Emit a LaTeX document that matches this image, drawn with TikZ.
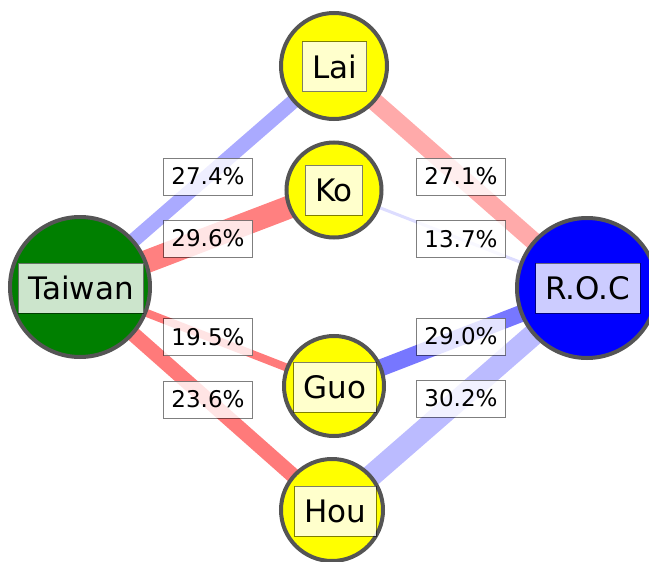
\documentclass[tikz,border=0pt]{standalone}
\usepackage{fontspec}
\setmainfont{DejaVu Sans}
\definecolor{nodeedge}{HTML}{555555}
\definecolor{tgreen}{HTML}{007F00}
\definecolor{rblue}{HTML}{0000FF}
\definecolor{cyel}{HTML}{FFFF00}
\definecolor{eTL}{HTML}{AAAAFF}
\definecolor{eTK}{HTML}{FF8080}
\definecolor{eTG}{HTML}{FF7A7A}
\definecolor{eTH}{HTML}{FF7A7A}
\definecolor{eRL}{HTML}{FFAAAA}
\definecolor{eRK}{HTML}{DDDDFF}
\definecolor{eRG}{HTML}{7777FF}
\definecolor{eRH}{HTML}{BBBBFF}
\tikzset{
  party/.style={circle, draw=nodeedge, line width=4pt, inner sep=0pt},
  namebox/.style={draw=black, draw opacity=0.5, fill=white, fill opacity=0.8, text opacity=1,
    line width=1pt, font=\fontsize{31}{31}\selectfont, inner xsep=10pt, inner ysep=0pt, minimum height=50pt},
  pctbox/.style={draw=black, draw opacity=0.5, fill=white, fill opacity=0.8, text opacity=1,
    line width=1pt, font=\fontsize{23}{23}\selectfont, inner sep=0pt, minimum width=89pt, minimum height=37pt},
  link/.style={line cap=butt}
}
\begin{document}
\begin{tikzpicture}[x=1pt,y=-1pt]
\useasboundingbox (0,0) rectangle (649,562);
% circles (positions)
\coordinate (tw) at (80,287);
\coordinate (roc) at (587,288);
\coordinate (lai) at (334,66);
\coordinate (ko) at (334,190);
\coordinate (guo) at (334,386);
\coordinate (hou) at (332,510);
% edges
\draw[link, eTL, line width=14.5pt] (tw) -- (lai);
\draw[link, eTK, line width=23pt] (tw) -- (ko);
\draw[link, eTG, line width=8pt] (tw) -- (guo);
\draw[link, eTH, line width=15pt] (tw) -- (hou);
\draw[link, eRL, line width=18pt] (roc) -- (lai);
\draw[link, eRK, line width=3pt] (roc) -- (ko);
\draw[link, eRG, line width=17pt] (roc) -- (guo);
\draw[link, eRH, line width=22pt] (roc) -- (hou);
% nodes
\node[party, fill=tgreen, minimum size=140pt] (twc) at (tw) {};
\node[party, fill=rblue, minimum size=140pt] (rocc) at (roc) {};
\node[party, fill=cyel, minimum size=106pt] (laic) at (lai) {};
\node[party, fill=cyel, minimum size=95pt] (koc) at (ko) {};
\node[party, fill=cyel, minimum size=100pt] (guoc) at (guo) {};
\node[party, fill=cyel, minimum size=102pt] (houc) at (hou) {};
\node[namebox] (twl) at (81,288) {Taiwan};
\node[namebox] (rocl) at (588,288) {R.O.C};
\node[namebox] (lail) at (334.5,66.5) {Lai};
\node[namebox] (kol) at (334,190) {Ko};
\node[namebox] (guol) at (335,387) {Guo};
\node[namebox] (houl) at (335.5,511) {Hou};
% percentages
\node[pctbox] (p1) at (208,176.5) {27.4\%};
\node[pctbox] (p2) at (208,238.5) {29.6\%};
\node[pctbox] (p3) at (208,337) {19.5\%};
\node[pctbox] (p4) at (208,399.5) {23.6\%};
\node[pctbox] (p5) at (461,176.5) {27.1\%};
\node[pctbox] (p6) at (461,239) {13.7\%};
\node[pctbox] (p7) at (461,336.5) {29.0\%};
\node[pctbox] (p8) at (461,398.5) {30.2\%};
\end{tikzpicture}
\end{document}
